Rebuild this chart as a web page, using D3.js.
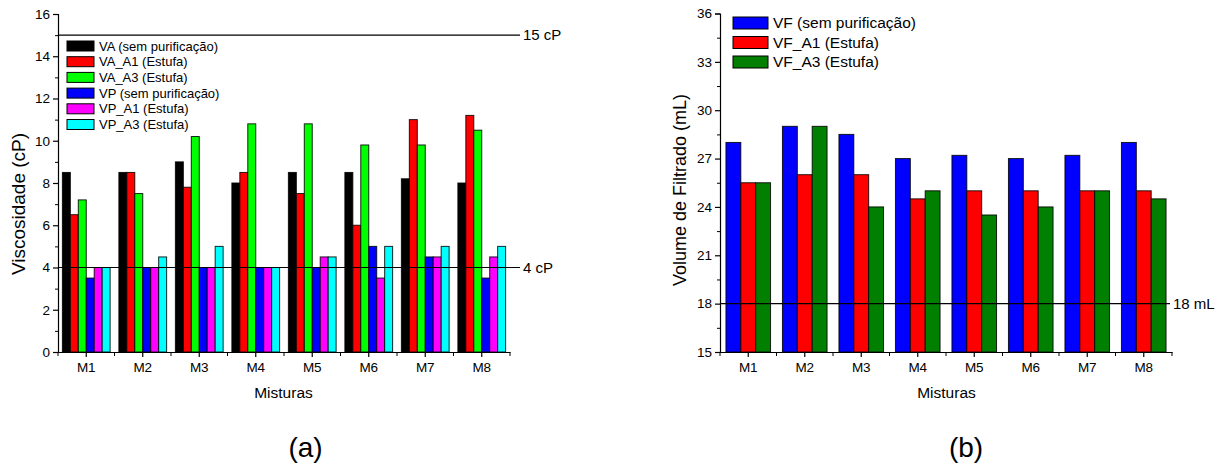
<!DOCTYPE html>
<html><head><meta charset="utf-8">
<script src="https://cdn.jsdelivr.net/npm/d3@7"></script>
<style>
body{margin:0;background:#fff;}
svg{display:block;font-family:"Liberation Sans",Arial,sans-serif;}
</style></head>
<body>
<svg id="chart" width="1220" height="468"></svg>
<script>
// ---------- data ----------
const categories = ["M1","M2","M3","M4","M5","M6","M7","M8"];

// (a) Viscosidade
const seriesA = ["VA (sem purificação)","VA_A1 (Estufa)","VA_A3 (Estufa)","VP (sem purificação)","VP_A1 (Estufa)","VP_A3 (Estufa)"];
const VA     = [8.5, 8.5, 9.0, 8.0, 8.5, 8.5, 8.2, 8.0];
const VA_A1  = [6.5, 8.5, 7.8, 8.5, 7.5, 6.0, 11.0, 11.2];
const VA_A3  = [7.2, 7.5, 10.2, 10.8, 10.8, 9.8, 9.8, 10.5];
const VP     = [3.5, 4.0, 4.0, 4.0, 4.0, 5.0, 4.5, 3.5];
const VP_A1  = [4.0, 4.0, 4.0, 4.0, 4.5, 3.5, 4.5, 4.5];
const VP_A3  = [4.0, 4.5, 5.0, 4.0, 4.5, 5.0, 5.0, 5.0];
const colorsA = ["#000000","#ff0000","#00ff00","#0000ff","#ff00ff","#00ffff"];
const ticksA = [0,2,4,6,8,10,12,14,16];
const refA = [{v:15,label:"15 cP"},{v:4,label:"4 cP"}];

// (b) Volume de Filtrado
const seriesB = ["VF (sem purificação)","VF_A1 (Estufa)","VF_A3 (Estufa)"];
const VF     = [28, 29, 28.5, 27, 27.2, 27, 27.2, 28];
const VF_A1  = [25.5, 26, 26, 24.5, 25, 25, 25, 25];
const VF_A3  = [25.5, 29, 24, 25, 23.5, 24, 25, 24.5];
const colorsB = ["#0000ff","#ff0000","#007f00"];
const ticksB = [15,18,21,24,27,30,33,36];
const refB = [{v:18,label:"18 mL"}];

const svg = d3.select("#chart");

function drawPanel(cfg){
  const g = svg.append("g");
  const x = d3.scaleBand().domain(categories).range([cfg.x0, cfg.x1]).padding(0);
  const y = d3.scaleLinear().domain(cfg.domain).range([cfg.y0, cfg.y1]);
  const inner = d3.scaleBand().domain(d3.range(cfg.data.length))
      .range([0, x.bandwidth()]).paddingOuter(cfg.pad).paddingInner(0);

  // bars
  cfg.data.forEach((arr, si) => {
    g.append("g").selectAll("rect").data(arr).join("rect")
      .attr("x", (d,i) => x(categories[i]) + inner(si))
      .attr("y", d => y(d))
      .attr("width", inner.bandwidth())
      .attr("height", d => y(cfg.domain[0]) - y(d))
      .attr("fill", cfg.colors[si])
      .attr("stroke", "#000").attr("stroke-width", 1).attr("stroke-opacity",0.85);
  });

  // reference lines
  cfg.refs.forEach(r => {
    g.append("line").attr("x1", cfg.x0).attr("x2", cfg.refEnd)
      .attr("y1", y(r.v)).attr("y2", y(r.v))
      .attr("stroke", "#000").attr("stroke-width", 1.2);
    g.append("text").attr("x", cfg.refEnd + 3).attr("y", y(r.v))
      .attr("dy", "0.35em").attr("font-size", 15).text(r.label);
  });

  // y axis
  const yAxis = d3.axisLeft(y).tickValues(cfg.ticks).tickSize(5).tickPadding(3);
  const ya = g.append("g").attr("transform", `translate(${cfg.x0},0)`).call(yAxis);
  ya.selectAll("text").attr("font-size", 13.5).attr("fill","#000");
  const step = cfg.ticks[1]-cfg.ticks[0];
  const minor = cfg.ticks.slice(0,-1).map(t => t + step/2);
  const ym = g.append("g").attr("transform", `translate(${cfg.x0},0)`)
    .call(d3.axisLeft(y).tickValues(minor).tickSize(3).tickFormat(""));
  ym.select(".domain").remove();

  // x axis
  const xa = g.append("g").attr("transform", `translate(0,${cfg.y0})`)
    .call(d3.axisBottom(x).tickSize(5).tickPadding(5).tickSizeOuter(0));
  xa.selectAll("text").attr("font-size", 13.5).attr("fill","#000");
  const bounds = categories.map(c => x(c)).concat([cfg.x1]);
  g.append("g").selectAll("line").data(bounds).join("line")
    .attr("x1", d => d).attr("x2", d => d)
    .attr("y1", cfg.y0).attr("y2", cfg.y0 + 4)
    .attr("stroke", "#000");
  [ya, xa].forEach(a => a.selectAll("path,line").attr("stroke","#000").attr("stroke-width",1.2));

  // titles
  g.append("text").attr("x", cfg.xTitleX).attr("y", 398)
    .attr("text-anchor","middle").attr("font-size", 15.5).text("Misturas");
  g.append("text")
    .attr("transform", `translate(${cfg.yTitleX},${cfg.yTitleY}) rotate(-90)`)
    .attr("text-anchor","middle").attr("dy","0.35em").attr("font-size", cfg.yTitleFs).text(cfg.yTitle);
  g.append("text").attr("x", cfg.panelLabelX).attr("y", 457)
    .attr("text-anchor","middle").attr("font-size", 28).text(cfg.panelLabel);

  // legend
  const lg = g.append("g");
  cfg.names.forEach((n, i) => {
    const yy = cfg.leg.y + i*cfg.leg.dy;
    lg.append("rect").attr("x", cfg.leg.x).attr("y", yy)
      .attr("width", cfg.leg.w).attr("height", cfg.leg.h)
      .attr("fill", cfg.colors[i]).attr("stroke","#000").attr("stroke-width",1);
    lg.append("text").attr("x", cfg.leg.x + cfg.leg.w + 5).attr("y", yy + cfg.leg.h/2)
      .attr("dy","0.35em").attr("font-size", cfg.leg.fs).text(n);
  });
}

drawPanel({
  x0:58, x1:510, y0:352, y1:14, domain:[0,16], ticks:ticksA,
  data:[VA,VA_A1,VA_A3,VP,VP_A1,VP_A3], colors:colorsA, names:seriesA,
  pad:0.55, refs:refA, refEnd:520, xTitleX:283.5,
  yTitle:"Viscosidade (cP)", yTitleX:18.5, yTitleY:204, yTitleFs:19, panelLabel:"(a)", panelLabelX:305.5,
  leg:{x:67, y:41, dy:15.7, w:27, h:10, fs:13}
});

drawPanel({
  x0:720, x1:1172, y0:352, y1:13.5, domain:[15,36], ticks:ticksB,
  data:[VF,VF_A1,VF_A3], colors:colorsB, names:seriesB,
  pad:0.4, refs:refB, refEnd:1170, xTitleX:946.5,
  yTitle:"Volume de Filtrado (mL)", yTitleX:680, yTitleY:190, yTitleFs:18, panelLabel:"(b)", panelLabelX:966,
  leg:{x:733, y:17, dy:19.5, w:35, h:12, fs:15.5}
});
</script>
</body></html>
